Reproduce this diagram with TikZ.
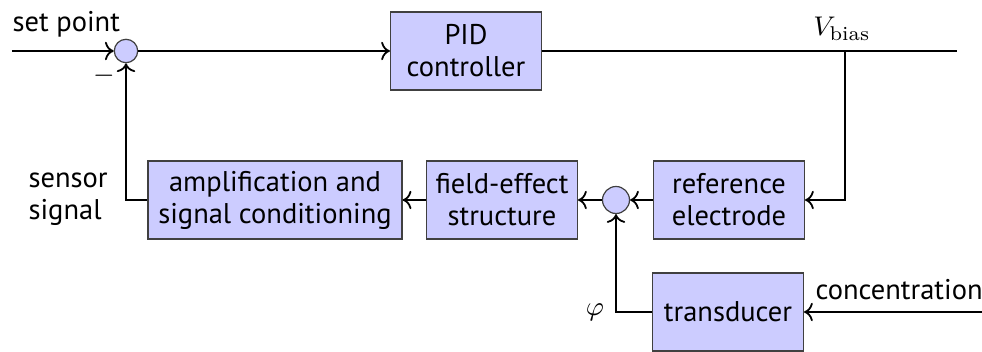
\documentclass[tikz,border=0pt]{standalone}
\usepackage{fontspec}
\setsansfont{PT Sans}
\usepackage{tikz}
\usetikzlibrary{arrows.meta,positioning}

\begin{document}
\begin{tikzpicture}[x=0.3333pt, y=-0.3333pt, every node/.style={font=\sffamily\fontsize{9.5}{10.7}\selectfont}, block/.style={draw=black!75, fill=blue!20, align=center, minimum width=50.3pt, minimum height=26pt, inner sep=2pt}, sumnode/.style={draw=black!75, fill=blue!20, circle, minimum size=7.8pt, inner sep=0pt}, arr/.style={-{To}, semithick}, wire/.style={semithick}]
\useasboundingbox (0,0) rectangle (982,352);
% forward path
\coordinate (spin) at (12,51);
\node[sumnode] (sumin) at (126,51) {};
\node[block] (pid) at (466,51) {PID\\controller};
\coordinate (tap) at (845,51);
\coordinate (vout) at (957,51);
% sensor loop
\node[block] (refel) at (729,200) {reference\\electrode};
\node[sumnode, minimum size=9pt] (sumfet) at (616,200) {};
\node[block] (fet) at (502,200) {field-effect\\structure};
\node[block, minimum width=84.7pt] (amp) at (275,200) {amplification and\\signal conditioning};
\node[block] (trans) at (728,312) {transducer};
\coordinate (concin) at (982,312);
% labels
\node[anchor=base west, inner sep=0pt] (lblsp) at (12,32) {set point};
\node[anchor=base, inner sep=0pt] (lblv) at (842,36) {$V_{\mathrm{bias}}$};
\node[inner sep=0pt] (lblminus) at (104,76) {$-$};
\node[anchor=west, align=left, inner sep=0pt] (lblsens) at (28,199) {sensor\\signal};
\node[anchor=base west, inner sep=0pt] (lblconc) at (815,300) {concentration};
\node[inner sep=0pt] (lblphi) at (595,312) {$\varphi$};
% connectors
\draw[arr] (spin) -- (sumin.west);
\draw[arr] (sumin.east) -- (pid.west);
\draw[wire] (pid.east) -- (vout);
\draw[arr] (tap) |- (refel.east);
\draw[arr] (refel.west) -- (sumfet.east);
\draw[arr] (sumfet.west) -- (fet.east);
\draw[arr] (fet.west) -- (amp.east);
\draw[arr] (amp.west) -| (sumin.south);
\draw[arr] (concin) -- (trans.east);
\draw[arr] (trans.west) -| (sumfet.south);
\end{tikzpicture}
\end{document}
